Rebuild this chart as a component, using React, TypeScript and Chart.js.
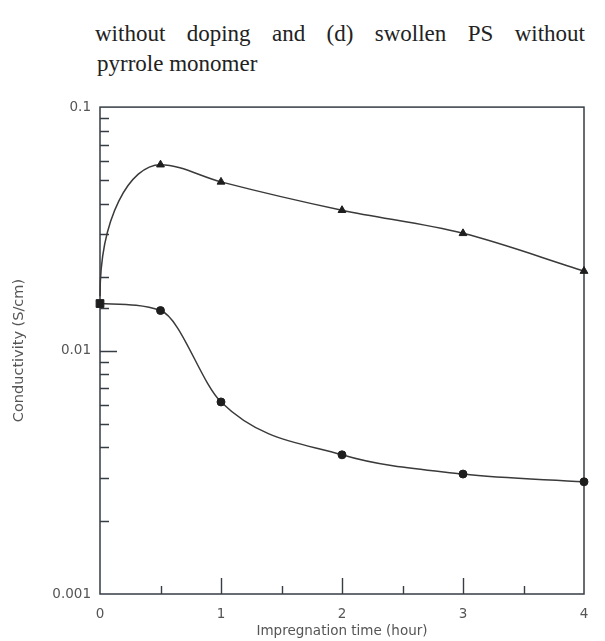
import React, { useEffect, useRef } from 'react';
import { Chart, registerables } from 'chart.js';

Chart.register(...registerables);

// ---- data ----
const captionLines = ['without doping and (d) swollen PS without', 'pyrrole monomer'];
const timeHours = [0, 0.5, 1, 2, 3, 4];
const seriesTriangle = [0.0167, 0.058, 0.0493, 0.0377, 0.0303, 0.0212];
const seriesCircle = [0.0156, 0.0146, 0.00615, 0.00373, 0.00311, 0.00289];
const xTickLabels = ['0', '1', '2', '3', '4'];
const yTickLabels = ['0.001', '0.01', '0.1'];
const xTitle = 'Impregnation time (hour)';
const yTitle = 'Conductivity (S/cm)';

const AXIS = '#363d45';
const LINE = '#3a3a3a';
const MARK = '#1e1e1e';
const LABEL = '#555';
const FONT = '"DejaVu Sans", "Liberation Sans", sans-serif';

const yLabelFor = (v: number) => {
  const l = yTickLabels.find((s) => Math.abs(Number(s) - v) / v < 1e-6);
  return l ?? '';
};
const xLabelFor = (v: number) => {
  const l = xTickLabels.find((s) => Math.abs(Number(s) - v) < 1e-9);
  return l ?? '';
};

const frameTicks = {
  id: 'frameTicks',
  beforeDatasetsDraw(chart: any) {
    const { ctx, chartArea, scales } = chart;
    const { left, right, top, bottom } = chartArea;
    const x = scales.x;
    const y = scales.y;
    ctx.save();
    ctx.strokeStyle = AXIS;
    ctx.lineWidth = 1.5;
    ctx.strokeRect(left, top, right - left, bottom - top);
    ctx.lineWidth = 1.4;
    ctx.beginPath();
    x.ticks.forEach((t: any) => {
      if (t.value <= x.min || t.value >= x.max) return;
      const px = Math.round(x.getPixelForValue(t.value)) + 0.5;
      const len = xLabelFor(t.value) ? 16 : 8;
      ctx.moveTo(px, bottom);
      ctx.lineTo(px, bottom - len);
    });
    y.ticks.forEach((t: any) => {
      if (t.value <= y.min * 1.0001 || t.value >= y.max * 0.9999) return;
      const py = Math.round(y.getPixelForValue(t.value)) + 0.5;
      const len = yLabelFor(t.value) ? 17 : 9;
      ctx.moveTo(left, py);
      ctx.lineTo(left + len, py);
    });
    ctx.stroke();
    ctx.restore();
  },
};

// Shape the first (rising) segment of the triangle curve as a smooth arc:
// start tangent steep, arriving flat at the maximum. Uses the points' own pixels.
const riseArc = {
  id: 'riseArc',
  beforeDatasetDraw(chart: any, args: any) {
    if (args.index !== 0) return;
    const meta = chart.getDatasetMeta(0);
    const line = meta.dataset;
    if (!line) return;
    line.updateControlPoints(chart.chartArea, 'x');
    const p0 = meta.data[0];
    const p1 = meta.data[1];
    if (!p0 || !p1) return;
    p0.cp2x = p0.x;
    p0.cp2y = p0.y - 0.6 * (p0.y - p1.y);
    p1.cp1x = p1.x - 0.5 * (p1.x - p0.x);
    p1.cp1y = p1.y;
    line._path = undefined;
  },
};

export default function App() {
  const ref = useRef<HTMLCanvasElement>(null);

  useEffect(() => {
    const chart = new Chart(ref.current as HTMLCanvasElement, {
      type: 'line',
      data: {
        datasets: [
          {
            label: 'triangle',
            data: timeHours.map((t, i) => ({ x: t, y: seriesTriangle[i] })),
            borderColor: LINE,
            borderWidth: 1.5,
            cubicInterpolationMode: 'monotone',
            pointStyle: 'triangle',
            pointRadius: timeHours.map((_, i) => (i === 0 ? 0 : 4.5)),
            pointBackgroundColor: MARK,
            pointBorderColor: MARK,
            pointBorderWidth: 1,
            clip: false as any,
          },
          {
            label: 'circle',
            data: timeHours.map((t, i) => ({ x: t, y: seriesCircle[i] })),
            borderColor: LINE,
            borderWidth: 1.5,
            cubicInterpolationMode: 'monotone',
            pointStyle: timeHours.map((_, i) => (i === 0 ? 'rect' : 'circle')) as any,
            pointRadius: timeHours.map((_, i) => (i === 0 ? 5.5 : 4)),
            pointBackgroundColor: MARK,
            pointBorderColor: MARK,
            pointBorderWidth: 1,
            clip: false as any,
          },
        ],
      },
      options: {
        responsive: false,
        animation: false,
        devicePixelRatio: 1,
        layout: { padding: { top: 14, right: 21, bottom: 0, left: 0 } },
        plugins: { legend: { display: false }, tooltip: { enabled: false } },
        scales: {
          x: {
            type: 'linear',
            min: 0,
            max: 4,
            grid: { display: false, drawTicks: false },
            border: { display: false },
            ticks: {
              stepSize: 0.5,
              autoSkip: false,
              maxRotation: 0,
              padding: 12,
              color: LABEL,
              font: { family: FONT, size: 13.5 },
              callback: (v: any) => xLabelFor(Number(v)),
            },
            title: {
              display: true,
              text: xTitle,
              color: LABEL,
              font: { family: FONT, size: 13.5 },
              padding: { top: 0, bottom: 1 },
            },
            afterFit: (s: any) => {
              s.height = 47;
            },
          },
          y: {
            type: 'logarithmic',
            min: 0.001,
            max: 0.1,
            grid: { display: false, drawTicks: false },
            border: { display: false },
            ticks: {
              autoSkip: false,
              padding: 9,
              color: LABEL,
              font: { family: FONT, size: 13.5 },
              callback: (v: any) => yLabelFor(Number(v)),
            },
            title: {
              display: true,
              text: yTitle,
              color: LABEL,
              font: { family: FONT, size: 14.5 },
              padding: { top: 11, bottom: 0 },
            },
            afterFit: (s: any) => {
              s.width = 100;
            },
          },
        },
      },
      plugins: [frameTicks, riseArc],
    });
    return () => chart.destroy();
  }, []);

  const captionFont = '23px "Liberation Serif", "Times New Roman", serif';

  return (
    <div
      style={{
        position: 'absolute',
        left: 0,
        top: 0,
        width: 605,
        height: 641,
        background: '#fff',
        overflow: 'hidden',
      }}
    >
      <div
        style={{
          position: 'absolute',
          left: 95,
          top: 19,
          width: 490,
          font: captionFont,
          lineHeight: '30px',
          color: '#222',
          textAlign: 'justify',
          textAlignLast: 'justify',
        }}
      >
        {captionLines[0]}
      </div>
      <div
        style={{
          position: 'absolute',
          left: 97,
          top: 49,
          font: captionFont,
          lineHeight: '30px',
          color: '#222',
          whiteSpace: 'nowrap',
        }}
      >
        {captionLines[1]}
      </div>
      <canvas
        ref={ref}
        width={605}
        height={551}
        style={{ position: 'absolute', left: 0, top: 90, width: 605, height: 551 }}
      />
    </div>
  );
}
